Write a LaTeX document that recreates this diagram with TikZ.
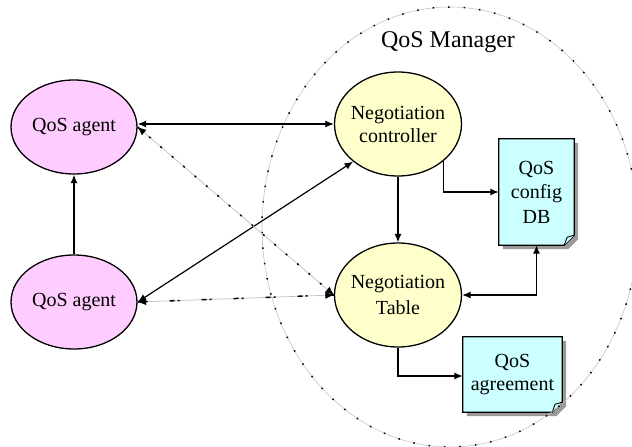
\documentclass[tikz,border=0pt]{standalone}
\usepackage{fontspec}
\setmainfont{Liberation Serif}
\usetikzlibrary{arrows.meta,shapes.geometric,backgrounds}
\definecolor{agentpink}{HTML}{FFCCFF}
\definecolor{negyellow}{HTML}{FFFFCC}
\definecolor{notecyan}{HTML}{CCFFFF}
\definecolor{shadowgray}{HTML}{9A9A9A}
\begin{document}
\begin{tikzpicture}[x=1pt,y=-1pt,
  font=\fontsize{20}{23}\selectfont,
  tip/.tip={Latex[length=8.5pt,width=7pt]},
  btip/.tip={Latex[length=8.5pt,width=7pt,color=black]},
  agent/.style={ellipse,draw,line width=1.3pt,fill=agentpink,
    minimum width=126pt,minimum height=94pt,inner sep=0pt},
  negot/.style={ellipse,draw,line width=1.3pt,fill=negyellow,
    minimum width=127pt,minimum height=104pt,inner xsep=-16pt,inner ysep=0pt,align=center},
  notebox/.style={rectangle,inner sep=0pt,align=center},
  link/.style={line width=1.2pt,-tip},
  bilink/.style={line width=1.2pt,tip-tip},
  dotlink/.style={draw=gray!50,line width=0.7pt,btip-btip,
    postaction={draw=black,line width=1.5pt,arrows=-,dash pattern=on 2pt off 13pt}},
  dashdotlink/.style={draw=gray!50,line width=0.7pt,btip-btip,
    postaction={draw=black,line width=1.5pt,arrows=-,dash pattern=on 5pt off 3pt on 2pt off 22pt}},
  boundary/.style={draw=gray!45,line width=0.6pt,
    postaction={draw=black,line width=1.5pt,dash pattern=on 1.5pt off 14pt}}
]
\useasboundingbox (0,0) rectangle (632,447);

% manager boundary
\begin{scope}
  \clip (0,0) rectangle (632,447);
  \draw[boundary] (450,227) ellipse [x radius=188, y radius=220];
\end{scope}
\node[font=\fontsize{24}{28}\selectfont] (title) at (448,42) {QoS Manager};

% processes
\node[agent] (agent1) at (74,127) {QoS agent};
\node[agent] (agent2) at (74,302) {QoS agent};
\node[negot] (ctrl) at (398,124) {Negotiation\\controller};
\node[negot,font=\fontsize{20}{25.5}\selectfont] (table) at (398,295) {Negotiation\\Table};

% documents
\node[notebox,minimum width=75pt,minimum height=106pt,font=\fontsize{20}{24.5}\selectfont]
  (db) at (536.5,192) {QoS\\config\\DB};
\node[notebox,minimum width=99pt,minimum height=75pt,font=\fontsize{20}{23}\selectfont]
  (agr) at (512.5,374.5) {QoS\\agreement};

\begin{scope}[on background layer]
  \fill[white] (0,0) rectangle (632,447);
  \foreach \n in {db,agr} {
    \fill[shadowgray] ([shift={(4,4)}]\n.north west) -- ([shift={(4,4)}]\n.north east)
      -- ([shift={(4,-6)}]\n.south east) -- ([shift={(-6,4)}]\n.south east)
      -- ([shift={(4,4)}]\n.south west) -- cycle;
    \filldraw[fill=notecyan,line width=1.3pt,line join=miter]
      (\n.north west) -- (\n.north east) -- ([shift={(0,-10)}]\n.south east)
      -- ([shift={(-10,0)}]\n.south east) -- (\n.south west) -- cycle;
    \filldraw[fill=notecyan,line width=0.9pt,line join=round]
      ([shift={(-10,0)}]\n.south east) -- ([shift={(-7,-8)}]\n.south east)
      -- ([shift={(0,-10)}]\n.south east);
  }
\end{scope}

% connectors
\draw[bilink] (ctrl.west) -- (ctrl.west -| agent1.east);
\draw[link] (agent2) -- (agent1);
\draw[bilink] (agent2.east) -- (ctrl.220);
\draw[dotlink] (agent1.east) -- (table.west);
\draw[dashdotlink] (agent2.east) -- (table.west);
\draw[link] (ctrl) -- (table);
\draw[link] (ctrl.-39) |- (db.west);
\draw[bilink] (table.east) -| (db.south);
\draw[link] (table.south) |- ([yshift=-1.5pt]agr.west);
\end{tikzpicture}
\end{document}
